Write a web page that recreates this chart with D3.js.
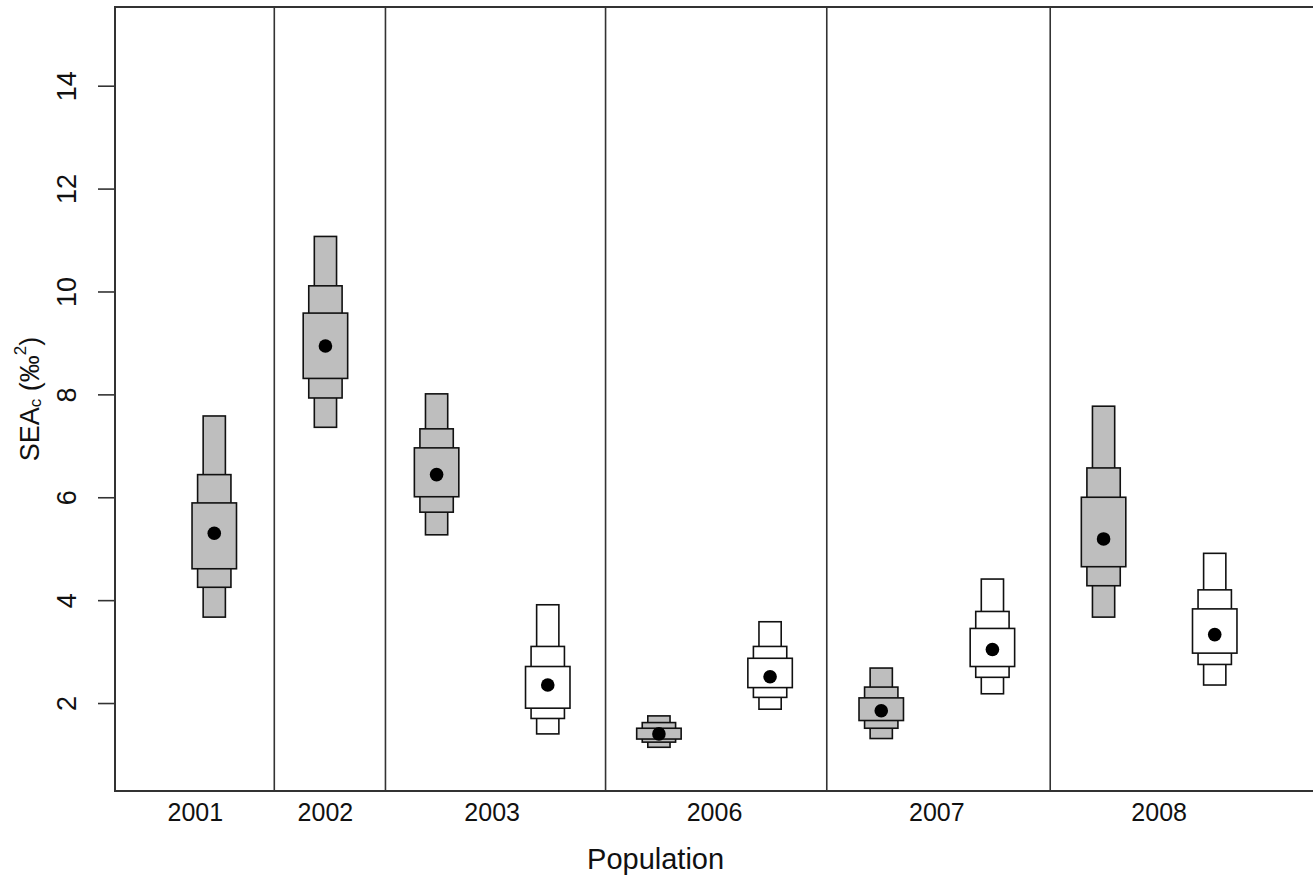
<!DOCTYPE html>
<html>
<head>
<meta charset="utf-8">
<script src="https://cdn.jsdelivr.net/npm/d3@7"></script>
<style>
  html, body { margin: 0; padding: 0; background: #fff; }
  svg text { font-family: "Liberation Sans", Arial, sans-serif; fill: #111; }
</style>
</head>
<body>
<svg id="chart" width="1313" height="877"></svg>
<script>
// Posterior SEAc per population and group (credible-interval boxes: 95 / 75 / 50 %)
const positions  = [1, 2, 3, 4, 5, 6, 7, 8, 9, 10];
const groupFill  = ["grey", "grey", "grey", "white", "grey", "white", "grey", "white", "grey", "white"];
const modes      = [5.30, 8.94, 6.44, 2.35, 1.40, 2.51, 1.85, 3.04, 5.19, 3.33];
const ci95Low    = [3.67, 7.36, 5.27, 1.40, 1.14, 1.88, 1.31, 2.18, 3.67, 2.35];
const ci95High   = [7.58, 11.07, 8.01, 3.91, 1.75, 3.58, 2.68, 4.41, 7.77, 4.91];
const ci75Low    = [4.25, 7.93, 5.71, 1.70, 1.24, 2.11, 1.51, 2.50, 4.28, 2.75];
const ci75High   = [6.44, 10.11, 7.33, 3.10, 1.62, 3.10, 2.31, 3.78, 6.57, 4.20];
const ci50Low    = [4.61, 8.31, 6.01, 1.90, 1.30, 2.30, 1.66, 2.71, 4.65, 2.97];
const ci50High   = [5.89, 9.58, 6.96, 2.71, 1.51, 2.87, 2.10, 3.45, 6.00, 3.83];

// Population labels and the dividers between populations (in x-axis units)
const populations   = ["2001", "2002", "2003", "2006", "2007", "2008"];
const labelAt       = [0.83, 2.0, 3.5, 5.5, 7.5, 9.5];
const dividers      = [1.54, 2.54, 4.52, 6.51, 8.52];
const yTicks        = [2, 4, 6, 8, 10, 12, 14];

// Box widths for each credible level (x-axis units)
const levels = [
  { low: ci95Low, high: ci95High, width: 0.2 },
  { low: ci75Low, high: ci75High, width: 0.3 },
  { low: ci50Low, high: ci50High, width: 0.4 }
];

const svg = d3.select("#chart");
const margin = { left: 115, top: 7, right: -1, bottom: 86 };
const W = 1313, H = 877;

const x = d3.scaleLinear().domain([0.107, 10.893]).range([margin.left, W - margin.right]);
const y = d3.scaleLinear().domain([0.29, 15.53]).range([H - margin.bottom, margin.top]);

const fills = { grey: "#bebebe", white: "#ffffff" };

// dividers between populations
svg.append("g").selectAll("line").data(dividers).join("line")
  .attr("x1", d => x(d)).attr("x2", d => x(d))
  .attr("y1", y.range()[0]).attr("y2", y.range()[1])
  .attr("stroke", "#333").attr("stroke-width", 1.6);

// nested credible-interval boxes, widest (95%) drawn first
const boxes = svg.append("g");
levels.forEach(lv => {
  boxes.append("g").selectAll("rect").data(positions).join("rect")
    .attr("x", (d, i) => x(d - lv.width / 2))
    .attr("width", x(lv.width) - x(0))
    .attr("y", (d, i) => y(lv.high[i]))
    .attr("height", (d, i) => y(lv.low[i]) - y(lv.high[i]))
    .attr("fill", (d, i) => fills[groupFill[i]])
    .attr("stroke", "#111").attr("stroke-width", 1.6);
});

// modes
svg.append("g").selectAll("circle").data(positions).join("circle")
  .attr("cx", d => x(d)).attr("cy", (d, i) => y(modes[i]))
  .attr("r", 6.8).attr("fill", "#000");

// y axis
const yAxis = d3.axisLeft(y).tickValues(yTicks).tickSize(17).tickPadding(0).tickFormat(d3.format("d"));
const ya = svg.append("g").attr("transform", `translate(${margin.left},0)`).call(yAxis);
ya.select(".domain").remove();
ya.selectAll(".tick line").attr("stroke", "#333").attr("stroke-width", 1.6);
ya.selectAll(".tick text")
  .attr("x", 0).attr("dy", null)
  .attr("transform", "translate(-48,0) rotate(-90)")
  .attr("text-anchor", "middle").attr("dominant-baseline", "central")
  .style("font-size", "27px");

// x labels
svg.append("g").selectAll("text").data(populations).join("text")
  .attr("x", (d, i) => x(labelAt[i])).attr("y", y.range()[0] + 21)
  .attr("text-anchor", "middle").attr("dominant-baseline", "central")
  .style("font-size", "25px").text(d => d);

// frame
svg.append("rect")
  .attr("x", margin.left).attr("y", margin.top)
  .attr("width", W - margin.right - margin.left)
  .attr("height", y.range()[0] - margin.top)
  .attr("fill", "none").attr("stroke", "#333").attr("stroke-width", 2);

// axis titles
svg.append("text")
  .attr("x", x(4.97)).attr("y", 859)
  .attr("text-anchor", "middle").attr("dominant-baseline", "central")
  .style("font-size", "29px").text("Population");

const yl = svg.append("text")
  .attr("transform", `translate(30,${(y.range()[0] + y.range()[1]) / 2}) rotate(-90)`)
  .attr("text-anchor", "middle").attr("dominant-baseline", "central")
  .style("font-size", "27px");
yl.append("tspan").text("SEA");
yl.append("tspan").attr("dy", 5).style("font-size", "17px").text("c");
yl.append("tspan").attr("dy", -5).text(" (‰");
yl.append("tspan").attr("dy", -10).style("font-size", "17px").text("2");
yl.append("tspan").attr("dy", 10).text(")");
</script>
</body>
</html>
